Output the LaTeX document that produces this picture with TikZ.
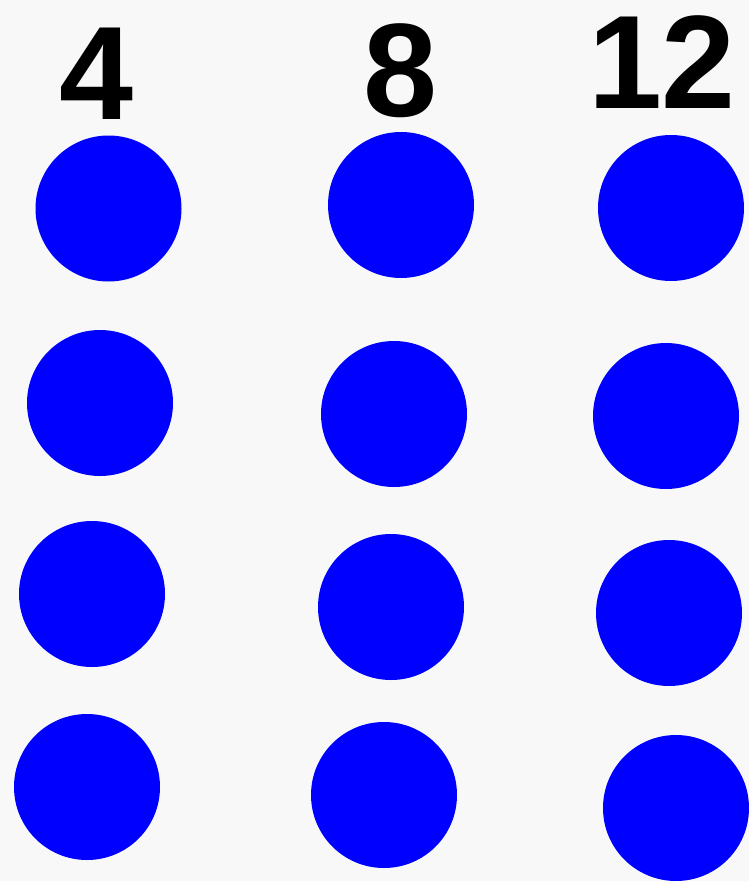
\documentclass[tikz,border=0pt]{standalone}
\usepackage{fontspec}
\setmainfont{Liberation Sans}
\definecolor{bgc}{HTML}{F8F8F8}
\definecolor{dotblue}{HTML}{0000FF}
\begin{document}
\begin{tikzpicture}[x=1pt,y=-1pt,
  dot/.style={circle,fill=dotblue,draw=none,minimum size=146pt,inner sep=0pt},
  num/.style={inner sep=0pt,font=\fontsize{133}{133}\selectfont\bfseries}]
\fill[bgc] (0,0) rectangle (749,881);
\useasboundingbox (0,0) rectangle (749,881);
\node[num] (t4) at (96,73.5) {4};
\node[num] (t8) at (400,70.5) {8};
\node[num] (t12) at (662,62.5) {12};
\node[dot] (a1) at (108.5,208.5) {};
\node[dot] (a2) at (100,403) {};
\node[dot] (a3) at (92,594) {};
\node[dot] (a4) at (87,787) {};
\node[dot] (b1) at (401,205) {};
\node[dot] (b2) at (394,414) {};
\node[dot] (b3) at (391,607) {};
\node[dot] (b4) at (384,795) {};
\node[dot] (c1) at (671,208) {};
\node[dot] (c2) at (666,416) {};
\node[dot] (c3) at (669,613) {};
\node[dot] (c4) at (676,808) {};
\end{tikzpicture}
\end{document}
